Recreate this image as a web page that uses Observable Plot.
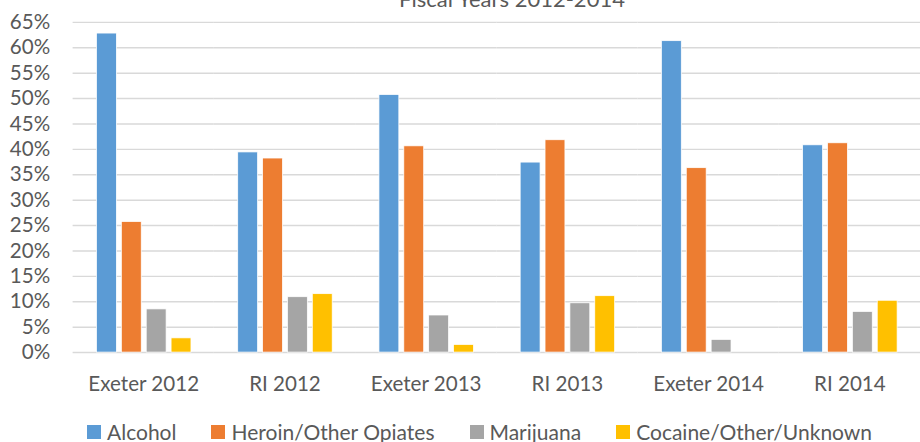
<!DOCTYPE html>
<html>
<head>
<meta charset="utf-8">
<script src="https://cdn.jsdelivr.net/npm/d3@7"></script>
<script src="https://cdn.jsdelivr.net/npm/@observablehq/plot@0.6"></script>
<style>
  html, body { margin: 0; padding: 0; background: #fff; overflow: hidden; }
  #wrap { position: relative; width: 920px; height: 442px; overflow: hidden; font-family: Lato, sans-serif; color: #595959; }
  #title { position: absolute; top: -12px; left: 0; width: 1024px; text-align: center; font-size: 22px; line-height: 22px; white-space: nowrap; }
  #chart { position: absolute; top: 0; left: 0; }
  #legend { position: absolute; top: 420px; left: 87px; display: flex; align-items: center; gap: 35px; font-size: 21px; line-height: 24px; white-space: nowrap; }
  .item { display: flex; align-items: center; gap: 6px; }
  .sw { width: 14px; height: 14px; display: inline-block; }
</style>
</head>
<body>
<div id="wrap">
  <div id="chart"></div>
  <div id="title">Fiscal Years 2012-2014</div>
  <div id="legend"></div>
</div>
<script>
const titleText = "Fiscal Years 2012-2014";
const groups = ["Exeter 2012", "RI 2012", "Exeter 2013", "RI 2013", "Exeter 2014", "RI 2014"];
const series = ["Alcohol", "Heroin/Other Opiates", "Marijuana", "Cocaine/Other/Unknown"];
const colors = ["#5B9BD5", "#ED7D31", "#A5A5A5", "#FFC000"];
const alcohol   = [62.8, 39.4, 50.7, 37.4, 61.3, 40.8];
const heroin    = [25.7, 38.2, 40.6, 41.8, 36.3, 41.2];
const marijuana = [8.5, 10.9, 7.3, 9.7, 2.5, 8.0];
const cocaine   = [2.8, 11.5, 1.5, 11.1, 0.0, 10.2];
const yTicks = [0, 5, 10, 15, 20, 25, 30, 35, 40, 45, 50, 55, 60, 65];

const seriesValues = [alcohol, heroin, marijuana, cocaine];
const data = [];
groups.forEach((g, gi) => {
  series.forEach((s, si) => {
    data.push({group: g, series: s, value: seriesValues[si][gi]});
  });
});

const chart = Plot.plot({
  width: 925,
  height: 418,
  marginTop: 22,
  marginBottom: 64,
  marginLeft: 73,
  marginRight: 0,
  style: {fontFamily: "Lato, sans-serif", fontSize: "20.7px", color: "#595959", background: "transparent", overflow: "visible"},
  fx: {domain: groups, padding: 0, label: null},
  x: {domain: series, paddingInner: 0.22, paddingOuter: 0.88, axis: null},
  y: {domain: [0, 65], label: null},
  color: {domain: series, range: colors},
  marks: [
    Plot.gridY(yTicks, {stroke: "#d9d9d9", strokeOpacity: 1, strokeWidth: 1.5}),
    Plot.axisY({ticks: yTicks, tickSize: 0, tickPadding: 23, label: null, tickFormat: d => d + "%"}),
    Plot.axisFx({anchor: "bottom", tickSize: 0, tickPadding: 24, label: null}),
    Plot.barY(data, {fx: "group", x: "series", y: "value", fill: "series", stroke: "#fff", strokeWidth: 0.75})
  ]
});
document.getElementById("chart").appendChild(chart);
document.getElementById("title").textContent = titleText;

const legend = document.getElementById("legend");
series.forEach((s, i) => {
  const item = document.createElement("div");
  item.className = "item";
  const sw = document.createElement("span");
  sw.className = "sw";
  sw.style.background = colors[i];
  const label = document.createElement("span");
  label.textContent = s;
  item.appendChild(sw);
  item.appendChild(label);
  legend.appendChild(item);
});
</script>
</body>
</html>
